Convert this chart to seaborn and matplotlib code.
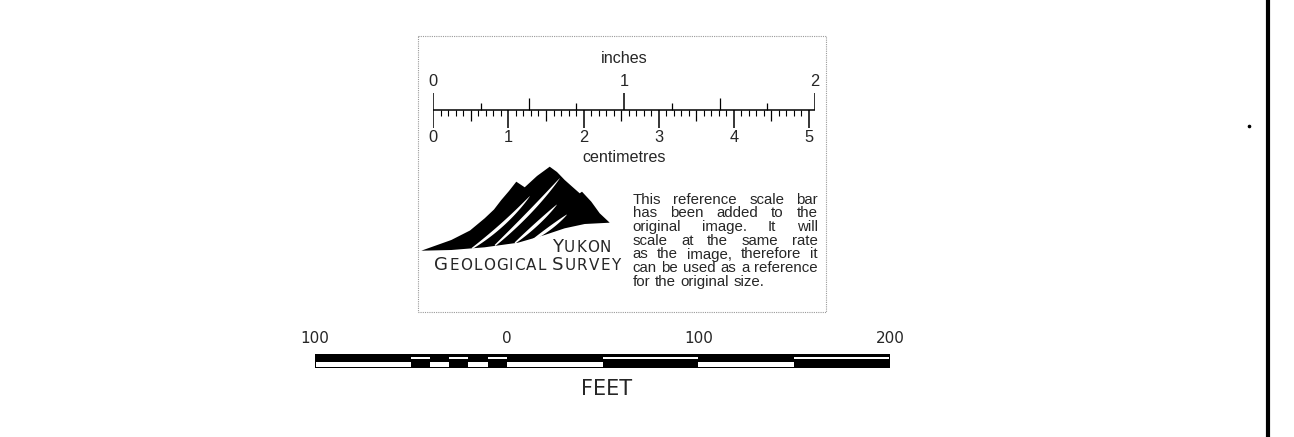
import numpy as np
import matplotlib
matplotlib.use("Agg")
import matplotlib.pyplot as plt
from matplotlib.patches import Rectangle
import seaborn as sns

# ---------------- data ----------------
inch_labels = [0, 1, 2]
inch_ticks = [0, 0.25, 0.5, 0.75, 1, 1.25, 1.5, 1.75, 2]
cm_labels = [0, 1, 2, 3, 4, 5]
mm_ticks = [i / 10 for i in range(51)]          # every millimetre, 0-5 cm

feet_edges = [-100, -50, -40, -30, -20, -10, 0, 50, 100, 150, 200]
feet_top_black = [True, False, True, False, True, False, True, False, True, False]
feet_tick_values = [-100, 0, 100, 200]
feet_tick_labels = ["100", "0", "100", "200"]

paragraph_lines = [
    "This reference scale bar",
    "has been added to the",
    "original image. It will",
    "scale at the same rate",
    "as the image, therefore it",
    "can be used as a reference",
    "for the original size.",
]

# logo outline (pixel space of the picture)
mountain_x = [421.3, 451.3, 470.0, 484.7, 494.0, 501.3, 509.0, 516.3, 524.7,
              537.0, 549.7, 557.0, 564.7, 572.0, 579.7, 582.0, 591.3, 599.7, 609.7,
              584.7, 564.7, 544.7, 518.0, 484.7, 451.3]
mountain_y = [250.7, 240.0, 230.5, 218.3, 209.5, 200.0, 191.0, 181.7, 187.3,
              176.0, 166.7, 172.0, 180.0, 186.5, 193.3, 191.7, 201.7, 213.3, 222.7,
              224.0, 228.3, 235.0, 242.7, 247.3, 250.0]
swooshes = [
    [(472.0, 248.5), (504.7, 226.0), (530.0, 196.0)],
    [(495.0, 245.5), (531.3, 213.0), (560.0, 178.0)],
    [(515.0, 243.0), (538.0, 224.0), (557.0, 204.5)],
    [(532.0, 240.5), (551.3, 228.0), (567.0, 214.5)],
]

# ---------------- figure ----------------
sns.set_theme(style="white")
plt.rcParams["font.family"] = ["Liberation Sans", "DejaVu Sans"]

W, H = 1294, 437
fig = plt.figure(figsize=(W / 100, H / 100), dpi=100)
fig.patch.set_facecolor("white")

ax = fig.add_axes([0, 0, 1, 1])
ax.set_xlim(0, W)
ax.set_ylim(H, 0)
ax.axis("off")

renderer = fig.canvas.get_renderer()


def width_of(t):
    return t.get_window_extent(renderer=renderer).width


# dotted reference box
ax.add_patch(Rectangle((418, 36), 408, 276, fill=False, ec="#9a9a9a",
                       lw=0.8, ls=(0, (1, 1))))

# ---------------- ruler (inches / centimetres) ----------------
x0_px, x1_px = 433.3, 815.0
ax_r = fig.add_axes([x0_px / W, 0, (x1_px - x0_px) / W, 1])
ax_r.patch.set_alpha(0)
sns.lineplot(x=[inch_ticks[0], inch_ticks[-1]], y=[110, 110], ax=ax_r,
             color="black", linewidth=1.1, legend=False)
ax_r.set_xlim(0, 2)
ax_r.set_ylim(H, 0)
ax_r.axis("off")

for v in inch_ticks:
    if float(v).is_integer():
        top, lw = 93.3, 1.1
    elif v % 0.5 == 0:
        top, lw = 98.3, 0.9
    else:
        top, lw = 103.3, 0.9
    ax_r.vlines(v, top, 110, color="black", lw=lw)

for c in mm_ticks:
    xv = c / 2.54
    if abs(c - round(c)) < 1e-9:
        bot, lw = 128.3, 1.1
    elif abs(c * 2 - round(c * 2)) < 1e-9:
        bot, lw = 120.7, 0.9
    else:
        bot, lw = 116.0, 0.8
    ax_r.vlines(xv, 110, bot, color="black", lw=lw)

for v in inch_labels:
    ax_r.text(v, 86, str(v), ha="center", va="baseline", fontsize=11.8)
for c in cm_labels:
    ax_r.text(c / 2.54, 142.3, str(c), ha="center", va="baseline", fontsize=11.8)
ax_r.text(1, 63.3, "inches", ha="center", va="baseline", fontsize=11.6)
ax_r.text(1, 162.3, "centimetres", ha="center", va="baseline", fontsize=11.6)

# ---------------- logo ----------------
ax.fill(mountain_x, mountain_y, color="black", lw=0)
for p0, p1, p2 in swooshes:
    t = np.linspace(0, 1, 80)
    p0, p1, p2 = np.array(p0), np.array(p1), np.array(p2)
    B = ((1 - t) ** 2)[:, None] * p0 + (2 * (1 - t) * t)[:, None] * p1 + (t ** 2)[:, None] * p2
    d = (2 * (1 - t))[:, None] * (p1 - p0) + (2 * t)[:, None] * (p2 - p1)
    n = np.stack([-d[:, 1], d[:, 0]], axis=1)
    n /= np.linalg.norm(n, axis=1)[:, None]
    w = 3.4 * np.sin(np.pi * (0.08 + 0.92 * t)) ** 0.7
    up = B + n * w[:, None] / 2
    lo = B - n * w[:, None] / 2
    poly = np.vstack([up, lo[::-1]])
    ax.fill(poly[:, 0], poly[:, 1], color="white", lw=0)


def fit_chars(words, x0, x1, y, family="DejaVu Sans"):
    rows = []
    for wd in words:
        row = []
        for ch, sz in wd:
            row.append((ax.text(0, y, ch, fontsize=sz, family=family,
                                ha="left", va="baseline"), sz))
        rows.append(row)
    total = sum(width_of(t) for row in rows for t, _ in row)
    space = sum(0.3 * rows[i][-1][1] * 100 / 72 for i in range(len(rows) - 1))
    n_gaps = sum(len(r) for r in rows) - 1
    g = (x1 - x0 - total - space) / max(n_gaps, 1)
    x = x0
    for i, row in enumerate(rows):
        for t, sz in row:
            t.set_x(x)
            x += width_of(t) + g
        if i < len(rows) - 1:
            x += 0.3 * row[-1][1] * 100 / 72


BIG, SMALL = 13.1, 10.9
fit_chars([[("Y", BIG)] + [(c, SMALL) for c in "UKON"]], 552, 611, 251.7)
fit_chars([[("G", BIG)] + [(c, SMALL) for c in "EOLOGICAL"],
           [("S", BIG)] + [(c, SMALL) for c in "URVEY"]], 434, 620, 270)

# justified paragraph
px0, px1 = 632.5, 818.0
PFS = 10.8
for i, line in enumerate(paragraph_lines):
    y = 203.5 + 13.75 * i
    words = line.split(" ")
    objs = [ax.text(0, y, wd, fontsize=PFS, ha="left", va="baseline") for wd in words]
    ws = [width_of(t) for t in objs]
    if i < len(paragraph_lines) - 1 and len(words) > 1:
        gap = (px1 - px0 - sum(ws)) / (len(words) - 1)
    else:
        gap = 0.3 * PFS * 100 / 72
    x = px0
    for t, wv in zip(objs, ws):
        t.set_x(x)
        x += wv + gap

# ---------------- feet bar ----------------
f0_px, f1_px = 315.0, 890.0
ax_f = fig.add_axes([f0_px / W, 0, (f1_px - f0_px) / W, 1])
ax_f.patch.set_alpha(0)
ax_f.set_xlim(feet_edges[0], feet_edges[-1])
ax_f.set_ylim(H, 0)
ax_f.axis("off")

ax_f.add_patch(Rectangle((feet_edges[0], 354.0), feet_edges[-1] - feet_edges[0], 14.2,
                         color="black", lw=0))
ft_per_px = (feet_edges[-1] - feet_edges[0]) / (f1_px - f0_px)
for i in range(len(feet_edges) - 1):
    a, b = feet_edges[i], feet_edges[i + 1]
    if i == 0:
        a += 1.2 * ft_per_px
    if i == len(feet_edges) - 2:
        b -= 1.2 * ft_per_px
    if feet_top_black[i]:
        ax_f.add_patch(Rectangle((a, 361.7), b - a, 4.8, color="white", lw=0))
    else:
        ax_f.add_patch(Rectangle((a, 356.5), b - a, 2.9, color="white", lw=0))

for v, lab in zip(feet_tick_values, feet_tick_labels):
    ax_f.text(v, 343.3, lab, ha="center", va="baseline", fontsize=11.0,
              family="DejaVu Sans")
ax_f.text(52, 395, "FEET", ha="center", va="baseline", fontsize=15.0,
          family="DejaVu Sans")

# ---------------- right margin line & speck ----------------
ax.plot([1268, 1268], [0, H], color="black", lw=3.0, solid_capstyle="butt")
ax.plot([1249], [126], marker="o", ms=1.6, color="black", lw=0)

fig.savefig("out.png", dpi=100, facecolor="white")
